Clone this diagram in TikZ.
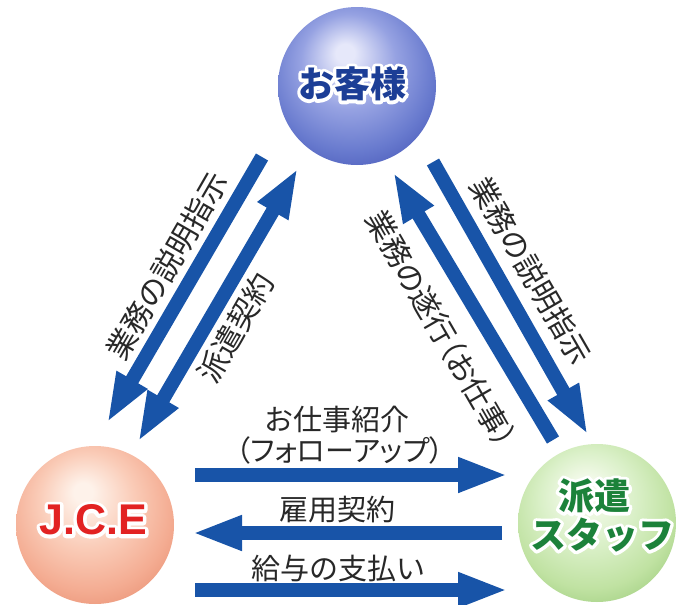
\documentclass[tikz,border=0pt]{standalone}
\usepackage{fontspec}
\setmainfont{Liberation Sans}
\newfontfamily\jp{Noto Sans CJK JP}
\newfontfamily\jpp[RawFeature=+palt]{Noto Sans CJK JP}
\newfontfamily\jphalo[FakeBold=18, BoldFeatures={FakeBold=18}]{Noto Sans CJK JP}
\newfontfamily\lhalo[FakeBold=16, BoldFeatures={FakeBold=16}]{Liberation Sans}
\usetikzlibrary{arrows.meta}

\definecolor{arrowblue}{RGB}{24,84,168}
\definecolor{labelgray}{RGB}{40,40,40}
\definecolor{custtxt}{RGB}{28,62,150}
\definecolor{jcetxt}{RGB}{226,34,34}
\definecolor{stafftxt}{RGB}{28,130,58}
% sphere colours
\definecolor{bH}{RGB}{230,232,250}\definecolor{bL}{RGB}{150,162,226}
\definecolor{bM}{RGB}{104,122,206}\definecolor{bE}{RGB}{66,82,180}
\definecolor{pH}{RGB}{254,242,234}\definecolor{pL}{RGB}{250,204,184}
\definecolor{pM}{RGB}{244,172,146}\definecolor{pE}{RGB}{230,138,108}
\definecolor{gH}{RGB}{246,251,238}\definecolor{gL}{RGB}{218,240,200}
\definecolor{gM}{RGB}{192,226,162}\definecolor{gE}{RGB}{150,200,118}

\pgfdeclareradialshading{sphblue}{\pgfpoint{-4bp}{11bp}}{color(0bp)=(bH); color(3bp)=(bH); color(15bp)=(bL); color(26bp)=(bM); color(36bp)=(bE); color(50bp)=(bE)}
\pgfdeclareradialshading{sphpeach}{\pgfpoint{-4bp}{11bp}}{color(0bp)=(pH); color(3bp)=(pH); color(15bp)=(pL); color(26bp)=(pM); color(36bp)=(pE); color(50bp)=(pE)}
\pgfdeclareradialshading{sphgreen}{\pgfpoint{-4bp}{11bp}}{color(0bp)=(gH); color(3bp)=(gH); color(15bp)=(gL); color(26bp)=(gM); color(36bp)=(gE); color(50bp)=(gE)}

% white outlined text: halo font, halo colour, text colour, text
\newcommand\halotext[4]{%
  \leavevmode\rlap{\pgfsetroundjoin\color{#2}#1#4}{\color{#3}#4}}

\tikzset{
  sphere/.style={circle, draw=none, minimum size=158pt, inner sep=0pt},
  bar/.style={line width=14pt, draw=arrowblue, -{Triangle[length=50pt,width=32pt]}},
  dbar/.style={line width=14pt, draw=arrowblue, {Triangle[length=50pt,width=32pt]}-{Triangle[length=50pt,width=32pt]}},
  lbl/.style={font=\jp\fontsize{29}{32}\selectfont, text=labelgray, inner sep=0pt},
  plbl/.style={font=\jpp\fontsize{29}{32}\selectfont, text=labelgray, inner sep=0pt},
  rlbl/.style={font=\jp\fontsize{30}{32}\selectfont, text=labelgray, inner sep=0pt},
  prlbl/.style={font=\jpp\fontsize{30}{32}\selectfont, text=labelgray, inner sep=0pt},
  bigjp/.style={font=\jp\bfseries\fontsize{36}{40}\selectfont, inner sep=0pt},
}

\begin{document}
\begin{tikzpicture}[x=1pt,y=-1pt]
\useasboundingbox[fill=white] (0,0) rectangle (681,605);

% spheres
\node[sphere, shading=sphblue] (cust) at (357,86) {};
\node[sphere, shading=sphpeach] (jce) at (95,525) {};
\node[sphere, shading=sphgreen] (staff) at (597,523) {};

\node[bigjp] (custT) at (352,84) {\halotext{\jphalo\bfseries}{white}{custtxt}{お客様}};
\node[font=\bfseries\fontsize{43}{48}\selectfont, inner sep=0pt] (jceT) at (93,520) {\halotext{\lhalo\bfseries}{white}{jcetxt}{J.C.E}};
\node[bigjp] (staffT1) at (594,496) {\halotext{\jphalo\bfseries}{white}{stafftxt}{派遣}};
\node[bigjp] (staffT2) at (602,535) {\halotext{\jphalo\bfseries}{white}{stafftxt}{スタッフ}};

% arrow end points
\coordinate (a1s) at (262,157); \coordinate (a1e) at (107,423);
\coordinate (a2s) at (138,442); \coordinate (a2e) at (298,168);
\coordinate (a3s) at (553,440); \coordinate (a3e) at (393,172);
\coordinate (a4s) at (433,162); \coordinate (a4e) at (588,435);
\coordinate (h1s) at (195,475); \coordinate (h1e) at (508,475);
\coordinate (h2s) at (502,533); \coordinate (h2e) at (192,533);
\coordinate (h3s) at (195,590); \coordinate (h3e) at (508,590);

\draw[bar] (a1s) -- (a1e);
\draw[dbar] (a2s) -- (a2e);
\draw[bar] (a3s) -- (a3e);
\draw[bar] (a4s) -- (a4e);
\draw[bar] (h1s) -- (h1e);
\draw[bar] (h2s) -- (h2e);
\draw[bar] (h3s) -- (h3e);

% labels
\node[lbl] (l1) at (337,420) {お仕事紹介};
\node[plbl] (l2) at (340,450) {（フォローアップ）};
\node[lbl] (l3) at (337,510) {雇用契約};
\node[lbl] (l4) at (338,568) {給与の支払い};
\node[rlbl, rotate=60] (l5) at (167,266) {業務の説明指示};
\node[rlbl, rotate=60] (l6) at (236,328) {派遣契約};
\node[rlbl, rotate=-60] (l7) at (531,271) {業務の説明指示};
\node[prlbl, rotate=-60] (l8) at (441,329) {業務の遂行（お仕事）};
\end{tikzpicture}
\end{document}
